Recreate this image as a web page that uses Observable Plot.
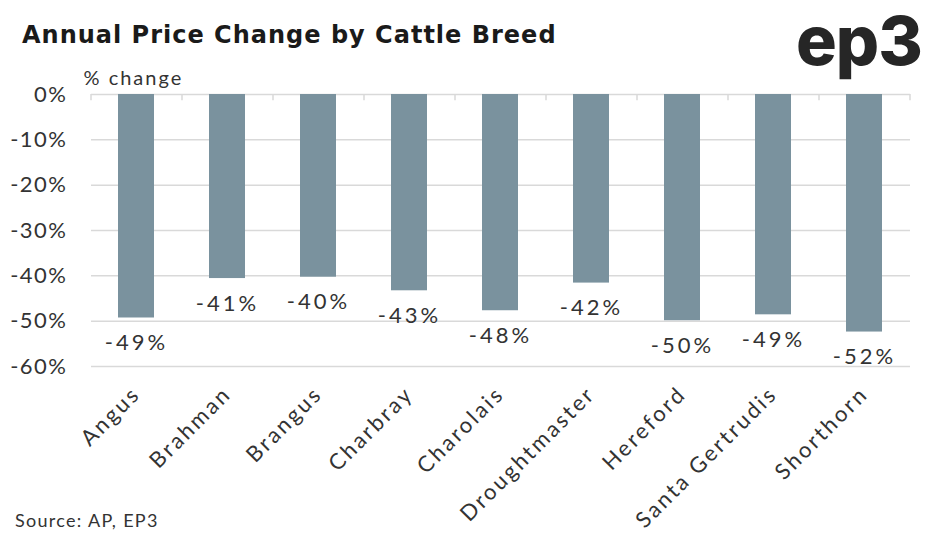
<!DOCTYPE html>
<html>
<head>
<meta charset="utf-8">
<script src="https://cdn.jsdelivr.net/npm/d3@7"></script>
<script src="https://cdn.jsdelivr.net/npm/@observablehq/plot@0.6"></script>
<style>
  html, body { margin: 0; padding: 0; background: #fff; }
  #wrap { position: relative; width: 943px; height: 541px; overflow: hidden; font-family: Lato, "Noto Sans", sans-serif; }
  #title { position: absolute; left: 22px; top: 18px; z-index: 2; font-family: "DejaVu Sans", Inter, sans-serif; font-weight: 700; font-size: 24px; line-height: 34px; color: #1a1a1a; letter-spacing: 1px; }
  #logo { position: absolute; left: 796px; top: 6px; z-index: 2; font-family: Inter, Lato, sans-serif; font-weight: 800; font-size: 68px; line-height: 68px; color: #262626; letter-spacing: -1px; }
  #chart { position: absolute; left: 0; top: 60px; z-index: 1; }
  #source { position: absolute; left: 15px; top: 509px; z-index: 2; font-size: 18px; line-height: 22px; color: #333; letter-spacing: 1.3px; }
</style>
</head>
<body>
<div id="wrap">
  <div id="chart"></div>
  <div id="title">Annual Price Change by Cattle Breed</div>
  <div id="logo">ep3</div>
  <div id="source">Source: AP, EP3</div>
</div>
<script>
const breeds = ["Angus", "Brahman", "Brangus", "Charbray", "Charolais", "Droughtmaster", "Hereford", "Santa Gertrudis", "Shorthorn"];
const changes = [-49.3, -40.6, -40.3, -43.3, -47.7, -41.6, -49.9, -48.6, -52.4];
const yTicks = [0, -10, -20, -30, -40, -50, -60];
const yLabel = "% change";

const data = breeds.map((b, i) => ({breed: b, value: changes[i]}));

const W = 943, H = 481, ML = 91, MR = 33, MT = 34, MB = 175;
const halfStep = (W - ML - MR) / breeds.length / 2;

const plot = Plot.plot({
  width: W,
  height: H,
  marginLeft: ML,
  marginRight: MR,
  marginTop: MT,
  marginBottom: MB,
  style: {fontFamily: "Lato, 'Noto Sans', sans-serif", color: "#333", background: "transparent", overflow: "visible"},
  x: {domain: breeds, paddingInner: 0.6, paddingOuter: 0.3, axis: null},
  y: {domain: [-60, 0], axis: null},
  marks: [
    Plot.ruleY(yTicks, {stroke: "#d9d9d9", strokeWidth: 1.5}),
    Plot.ruleX(breeds, {x: d => d, dx: -halfStep, y1: 0, y2: -1.4, stroke: "#d9d9d9", strokeWidth: 1.5}),
    Plot.ruleX([breeds[breeds.length - 1]], {x: d => d, dx: halfStep, y1: 0, y2: -1.4, stroke: "#d9d9d9", strokeWidth: 1.5}),
    Plot.barY(data, {x: "breed", y: "value", fill: "#7a929e"}),
    Plot.text(data, {x: "breed", y: "value", text: d => `${Math.round(d.value)}%`, dy: 25, dx: 0, fontSize: 22, fill: "#333"}),
    Plot.text(yTicks, {y: d => d, text: d => `${d}%`, frameAnchor: "left", dx: -24, textAnchor: "end", fontSize: 22, fill: "#333"}),
    Plot.text([yLabel], {text: d => d, frameAnchor: "top-left", dx: -8, dy: -24, textAnchor: "start", fontSize: 20, fill: "#333"}),
    Plot.text(breeds, {x: d => d, text: d => d, frameAnchor: "bottom", rotate: -45, textAnchor: "end", lineAnchor: "bottom", dx: 5, dy: 29, fontSize: 22, fill: "#333"})
  ]
});
const spacing = [3, 1.5, 2, 2.6];
d3.select(plot).selectAll('g[aria-label="text"]').each(function(_, i) {
  d3.select(this).style("letter-spacing", `${spacing[i]}px`);
});
document.getElementById("chart").appendChild(plot);
</script>
</body>
</html>
